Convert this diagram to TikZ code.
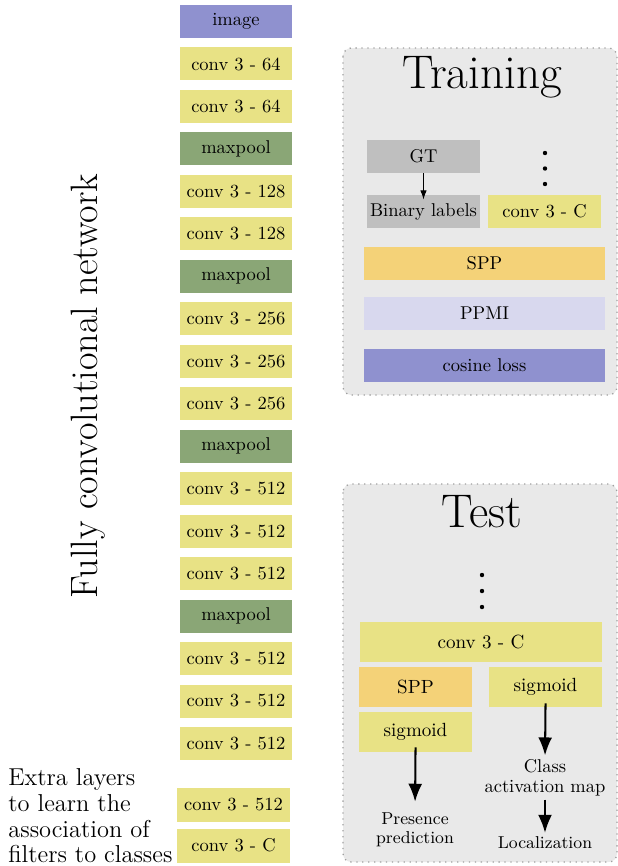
\documentclass[tikz,border=0pt]{standalone}
\usetikzlibrary{arrows.meta}
\definecolor{convc}{RGB}{232,226,133}
\definecolor{poolc}{RGB}{138,166,118}
\definecolor{bluec}{RGB}{143,145,207}
\definecolor{sppc}{RGB}{244,210,120}
\definecolor{ppmic}{RGB}{216,216,238}
\definecolor{gtc}{RGB}{191,191,191}
\definecolor{framec}{RGB}{233,233,233}
\definecolor{framedraw}{RGB}{160,160,160}
\def\u{0.54pt}
\tikzset{
  layer/.style={inner sep=0pt, minimum width=112*\u, minimum height=33*\u, font=\fontsize{10}{12}\selectfont},
  conv/.style={layer, fill=convc},
  pool/.style={layer, fill=poolc},
  blu/.style={layer, fill=bluec},
  frame/.style={fill=framec, draw=framedraw, line width=0.7pt, dash pattern=on 0.7pt off 2.5pt, rounded corners=4.5pt},
  title/.style={font=\fontsize{25.5}{30}\selectfont, anchor=base, inner sep=0pt},
  bigarrow/.style={line width=1.1pt, -{Latex[length=9.7pt,width=7.5pt]}},
  outtext/.style={inner sep=0pt, align=center},
}
\begin{document}
\begin{tikzpicture}[x=0.54pt, y=-0.54pt]
\useasboundingbox (0,0) rectangle (618,866);
% left column
\foreach \t/\s [count=\i from 0] in {image/blu, conv 3 - 64/conv, conv 3 - 64/conv, maxpool/pool,
  conv 3 - 128/conv, conv 3 - 128/conv, maxpool/pool,
  conv 3 - 256/conv, conv 3 - 256/conv, conv 3 - 256/conv, maxpool/pool,
  conv 3 - 512/conv, conv 3 - 512/conv, conv 3 - 512/conv, maxpool/pool,
  conv 3 - 512/conv, conv 3 - 512/conv, conv 3 - 512/conv}
  \node[\s] (L\i) at (236, {21.5+42.47*\i}) {\t};
\node[conv, minimum width=113*\u, minimum height=34*\u] (X1) at (233.5,805) {conv 3 - 512};
\node[conv, minimum width=113*\u, minimum height=34*\u] (X2) at (233.5,845.5) {conv 3 - C};
\node[rotate=90, inner sep=0pt, font=\fontsize{20.6}{24}\selectfont] (fcn) at (88,386) {Fully convolutional network};
\node[anchor=west, align=left, inner sep=0pt, font=\fontsize{13.2}{13.9}\selectfont] (extra) at (8,816)
  {Extra layers\\to learn the\\association of\\filters to classes};
% training frame
\draw[frame] (343,48) rectangle (617,395);
\node[title] (train) at (482,88) {Training};
\node[layer, fill=gtc, minimum width=113*\u] (gt) at (423.5,156.5) {GT};
\node[layer, fill=gtc, minimum width=113*\u] (bl) at (423.5,211.5) {Binary labels};
\node[conv, minimum width=113*\u] (tc) at (544.5,211.5) {conv 3 - C};
\foreach \yy in {153,168.5,184} \fill (545,\yy) circle (2.2);
\node[layer, fill=sppc, minimum width=241*\u] (tspp) at (484.5,263.5) {SPP};
\node[layer, fill=ppmic, minimum width=241*\u] (ppmi) at (484.5,313.5) {PPMI};
\node[layer, fill=bluec, minimum width=241*\u] (cos) at (484.5,365) {cosine loss};
\draw[line width=0.6pt, -{Latex[length=5pt,width=3.5pt]}, shorten >=-2.7pt] (gt.south) -- (bl.north);
% test frame
\draw[frame] (343,484) rectangle (617,862);
\node[title] (test) at (482,527) {Test};
\foreach \yy in {575,591,607} \fill (482,\yy) circle (2.2);
\node[conv, minimum width=242*\u, minimum height=40*\u, font=\fontsize{10.3}{12}\selectfont] (sc) at (481,642) {conv 3 - C};
\node[layer, fill=sppc, minimum width=113*\u, minimum height=40*\u, font=\fontsize{10.3}{12}\selectfont] (sspp) at (415.5,687) {SPP};
\node[conv, minimum width=113*\u, minimum height=40*\u, font=\fontsize{10.3}{12}\selectfont] (sigr) at (545.5,687) {sigmoid};
\node[conv, minimum width=113*\u, minimum height=40*\u, font=\fontsize{10.3}{12}\selectfont] (sigl) at (415.5,732) {sigmoid};
\node[outtext, font=\fontsize{9.3}{10}\selectfont] (pres) at (415,830) {Presence\\prediction};
\node[outtext, font=\fontsize{10}{11}\selectfont] (cam) at (545,778) {Class\\activation map};
\node[outtext, font=\fontsize{9.3}{11}\selectfont] (loc) at (545,843) {Localization};
\draw[bigarrow, shorten <=-2.7pt, shorten >=6pt] (sigl.south) -- (pres.north);
\draw[bigarrow, shorten <=-2.2pt, shorten >=2pt] (sigr.south) -- (cam.north);
\draw[bigarrow, shorten <=1.5pt, shorten >=2pt] (cam.south) -- (loc.north);
\end{tikzpicture}
\end{document}
